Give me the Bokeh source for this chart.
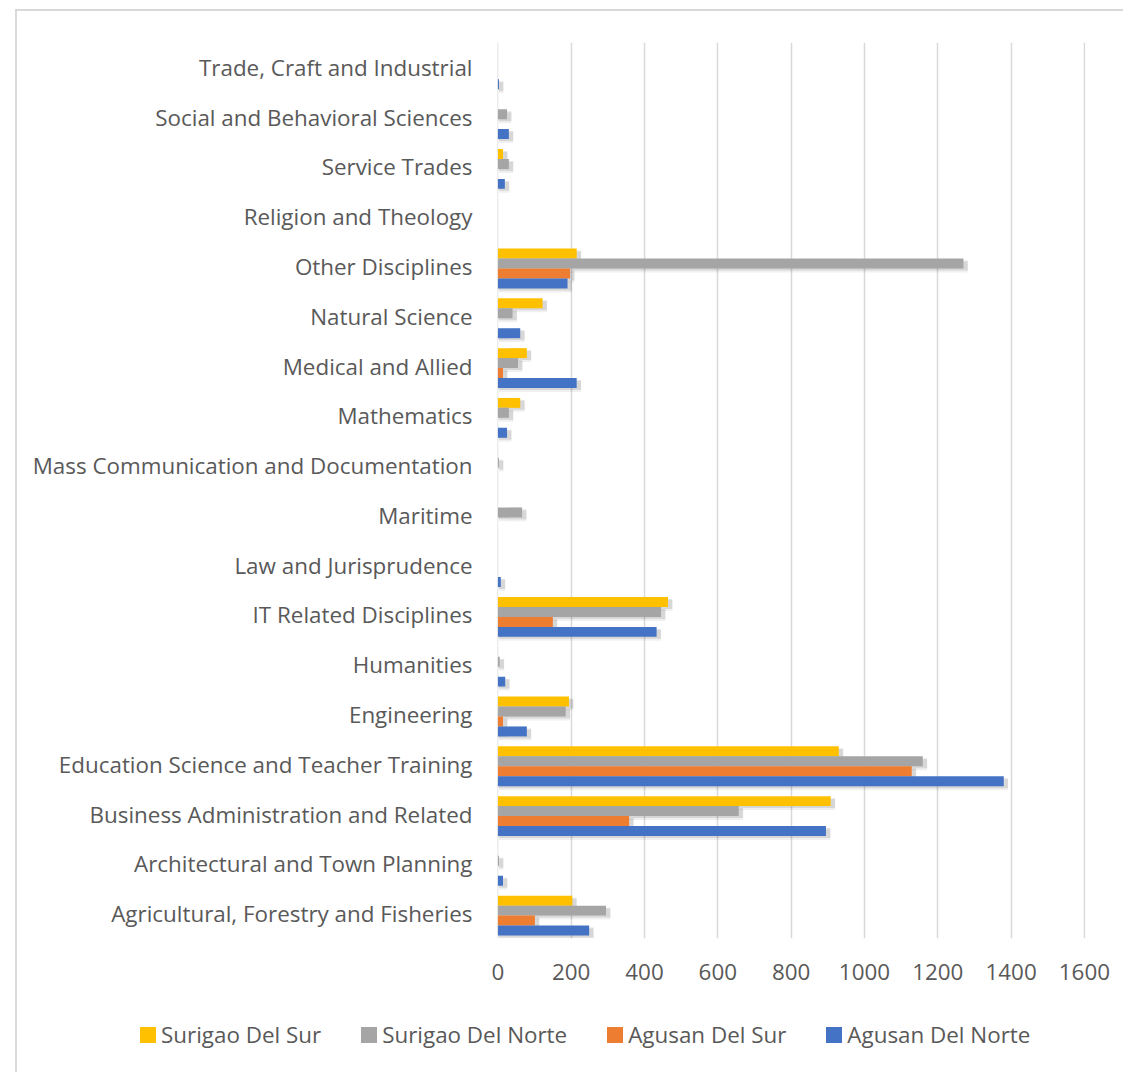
from bokeh.plotting import figure
from bokeh.layouts import column
from bokeh.models import ColumnDataSource, FixedTicker, Div
from bokeh.transform import dodge
from bokeh.embed import file_html
from bokeh.resources import INLINE

categories = [
    "Agricultural, Forestry and Fisheries",
    "Architectural and Town Planning",
    "Business Administration and Related",
    "Education Science and Teacher Training",
    "Engineering",
    "Humanities",
    "IT Related Disciplines",
    "Law and Jurisprudence",
    "Maritime",
    "Mass Communication and Documentation",
    "Mathematics",
    "Medical and Allied",
    "Natural Science",
    "Other Disciplines",
    "Religion and Theology",
    "Service Trades",
    "Social and Behavioral Sciences",
    "Trade, Craft and Industrial",
]

surigao_del_sur = [203, 0, 908, 930, 194, 0, 464, 0, 0, 0, 61, 79, 122, 215, 0, 14, 0, 0]
surigao_del_norte = [295, 3, 657, 1159, 185, 5, 445, 0, 66, 3, 30, 55, 40, 1270, 0, 30, 25, 0]
agusan_del_sur = [101, 0, 358, 1129, 14, 0, 150, 0, 0, 0, 0, 14, 0, 197, 0, 0, 0, 0]
agusan_del_norte = [249, 14, 895, 1380, 79, 20, 433, 8, 0, 0, 25, 215, 61, 190, 0, 19, 30, 3]

series_names = ["Surigao Del Sur", "Surigao Del Norte", "Agusan Del Sur", "Agusan Del Norte"]
series_values = [surigao_del_sur, surigao_del_norte, agusan_del_sur, agusan_del_norte]
series_colors = ["#FFC000", "#A5A5A5", "#ED7D31", "#4472C4"]
series_offsets = [0.26, 0.06, -0.14, -0.34]

x_ticks = [0, 200, 400, 600, 800, 1000, 1200, 1400, 1600]

FONT = "Open Sans"
FONT_SIZE = "22.4px"
TEXT_COLOR = "#595959"
GRID = "#d9d9d9"

W = 1106

p = figure(
    width=W, height=989,
    y_range=categories, x_range=(-1, 1603),
    output_backend="svg", toolbar_location=None,
    min_border_left=480, min_border_right=38,
    min_border_top=31, min_border_bottom=62,
)
p.outline_line_color = None
p.background_fill_color = "white"
p.border_fill_color = "white"

ticker = FixedTicker(ticks=x_ticks)
p.xaxis.ticker = ticker
p.xgrid.ticker = ticker
p.xgrid.grid_line_color = GRID
p.xgrid.grid_line_width = 1.5
p.ygrid.grid_line_color = None

for ax in (p.xaxis, p.yaxis):
    ax.axis_line_color = None
    ax.major_tick_line_color = None
    ax.minor_tick_line_color = None
    ax.major_label_text_font = FONT
    ax.major_label_text_font_size = FONT_SIZE
    ax.major_label_text_color = TEXT_COLOR
p.xaxis.major_label_standoff = 19
p.yaxis.major_label_standoff = 19

for name, vals, color, off in zip(series_names, series_values, series_colors, series_offsets):
    src = ColumnDataSource(dict(cat=categories, v=vals))
    # soft shadow (drawn only for non-zero bars)
    sh_cats = [c for c, v in zip(categories, vals) if v > 0]
    sh_vals = [v for v in vals if v > 0]
    sh = ColumnDataSource(dict(cat=sh_cats, right=[v + 12 for v in sh_vals]))
    p.hbar(y=dodge("cat", off - 0.07, range=p.y_range), left=3, right="right",
           height=0.22, source=sh, fill_color="black", fill_alpha=0.06, line_color=None)
    p.hbar(y=dodge("cat", off - 0.04, range=p.y_range), left=2, right="right",
           height=0.2, source=sh, fill_color="black", fill_alpha=0.10, line_color=None)
    p.hbar(y=dodge("cat", off, range=p.y_range), left=0, right="v", height=0.2,
           source=src, fill_color=color, line_color=None)

# legend strip below the chart (HTML, real text)
item_html = []
for name, color in zip(series_names, series_colors):
    item_html.append(
        f'<span style="display:inline-flex;align-items:center;margin-right:40px;">'
        f'<span style="display:inline-block;width:16px;height:16px;background:{color};'
        f'margin-right:5px;"></span>'
        f'<span style="font-family:\'{FONT}\';font-size:{FONT_SIZE};color:{TEXT_COLOR};'
        f'line-height:30px;white-space:nowrap;">{name}</span></span>'
    )
legend_div = Div(
    text='<div style="display:flex;align-items:center;height:30px;margin-top:15px;'
         'padding-left:118px;">' + "".join(item_html) + "</div>",
    width=W, height=70,
)

layout = column(p, legend_div, spacing=0)
layout.styles = {
    "margin-left": "15px",
    "margin-top": "9px",
    "border-top": "2px solid #d9d9d9",
    "border-left": "2px solid #d9d9d9",
}

open("out.html", "w").write(file_html(layout, INLINE))
